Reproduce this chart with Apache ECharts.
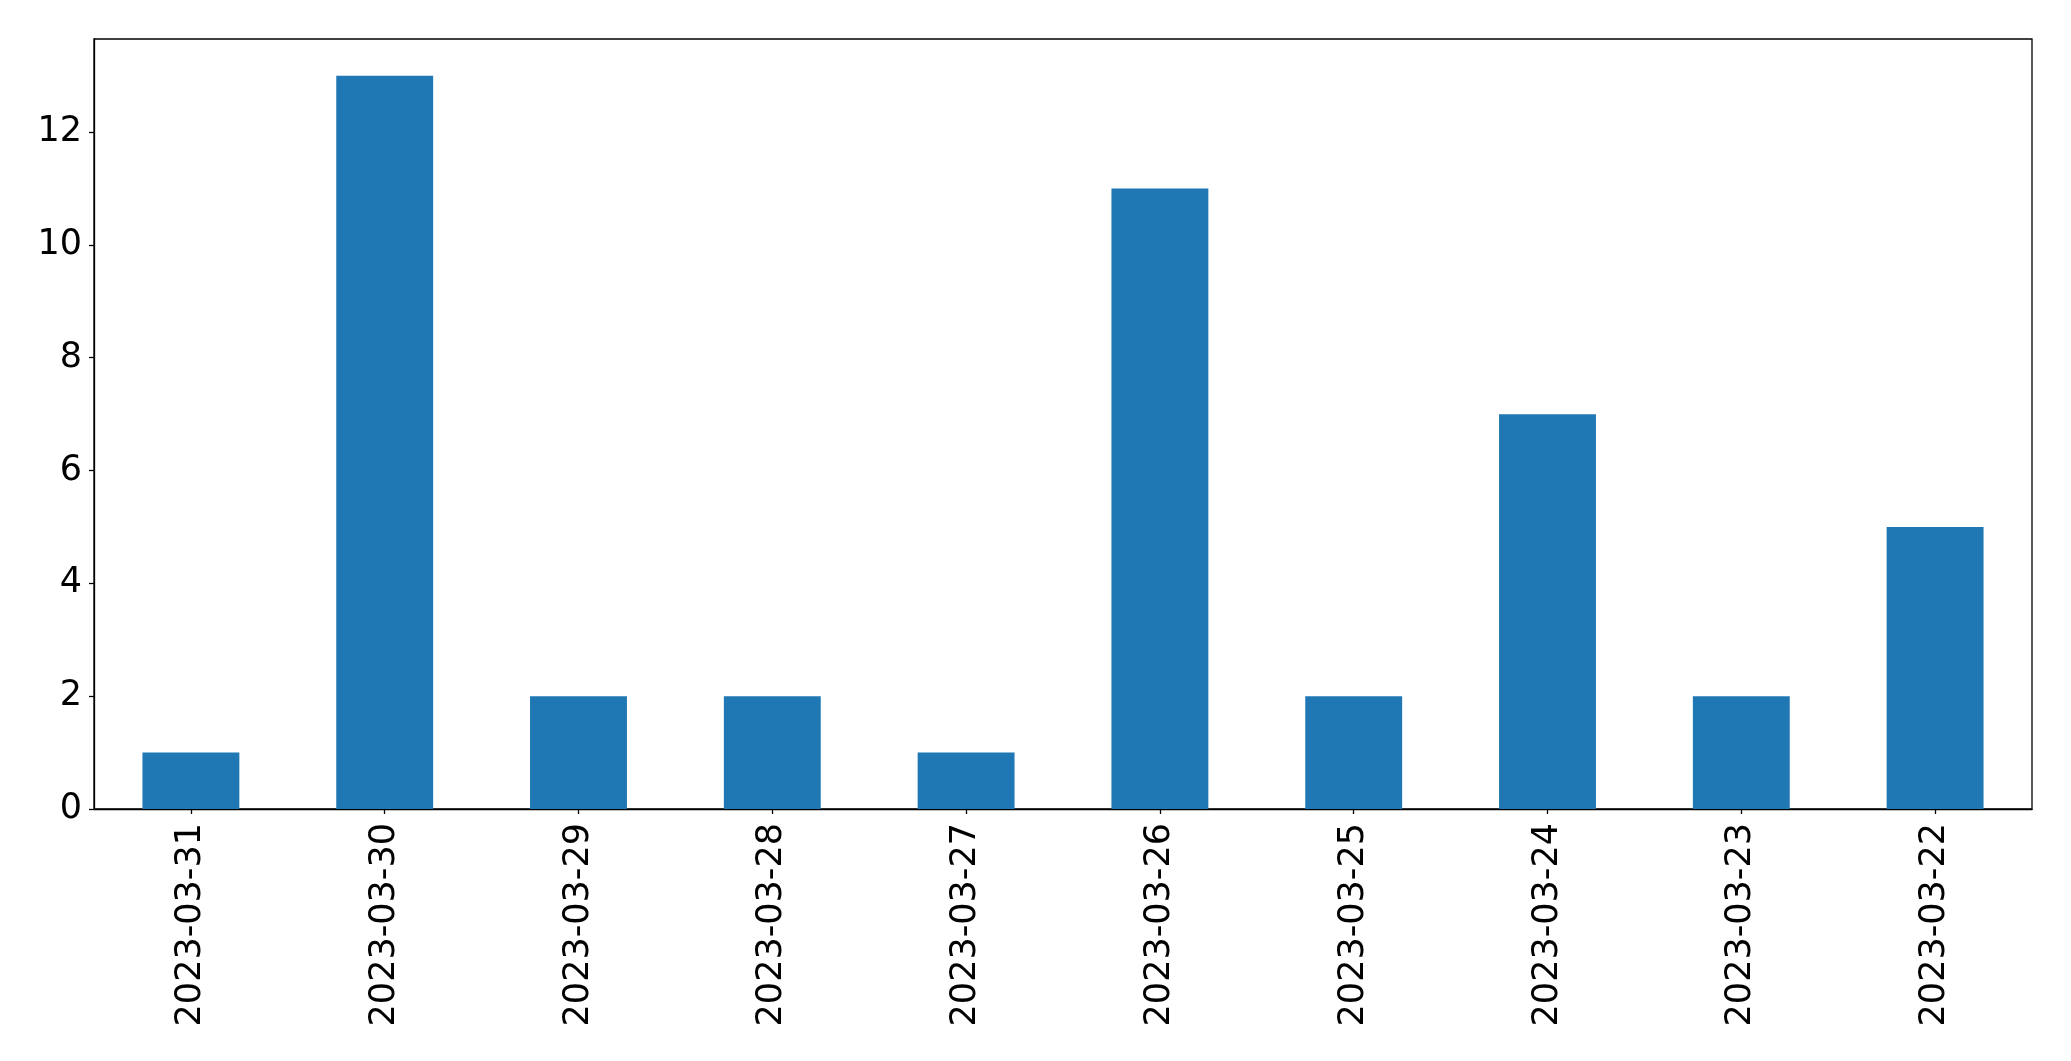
<!DOCTYPE html>
<html>
<head>
<meta charset="utf-8">
<script src="https://cdn.jsdelivr.net/npm/echarts@6/dist/echarts.min.js"></script>
<style>
html, body { margin: 0; padding: 0; background: #fff; }
#chart { width: 2071px; height: 1061px; }
</style>
</head>
<body>
<div id="chart"></div>
<script>
const categories = ["2023-03-31", "2023-03-30", "2023-03-29", "2023-03-28", "2023-03-27", "2023-03-26", "2023-03-25", "2023-03-24", "2023-03-23", "2023-03-22"];
const counts = [1, 13, 2, 2, 1, 11, 2, 7, 2, 5];
const yMax = 13.65;

const chart = echarts.init(document.getElementById('chart'), null, { renderer: 'canvas' });
const font = { fontFamily: 'DejaVu Sans', fontSize: 35, color: '#000' };
chart.setOption({
  animation: false,
  backgroundColor: '#fff',
  grid: { left: 94, right: 39, top: 39, bottom: 252, show: true, borderColor: '#000', borderWidth: 1.3, backgroundColor: 'transparent' },
  xAxis: {
    type: 'category',
    data: categories,
    boundaryGap: true,
    axisLine: { show: true, lineStyle: { color: '#000', width: 1.3 } },
    axisTick: { show: true, alignWithLabel: true, length: 5, lineStyle: { color: '#000', width: 1.3 } },
    axisLabel: Object.assign({ rotate: 90, margin: 14, interval: 0 }, font),
    splitLine: { show: false }
  },
  yAxis: {
    type: 'value',
    min: 0,
    max: yMax,
    interval: 2,
    axisLine: { show: true, lineStyle: { color: '#000', width: 1.3 } },
    axisTick: { show: true, length: 5, lineStyle: { color: '#000', width: 1.3 } },
    axisLabel: Object.assign({ margin: 12, showMaxLabel: false }, font),
    splitLine: { show: false }
  },
  series: [{
    type: 'bar',
    data: counts,
    barWidth: '50%',
    itemStyle: { color: '#1f77b4' }
  }]
});
</script>
</body>
</html>
